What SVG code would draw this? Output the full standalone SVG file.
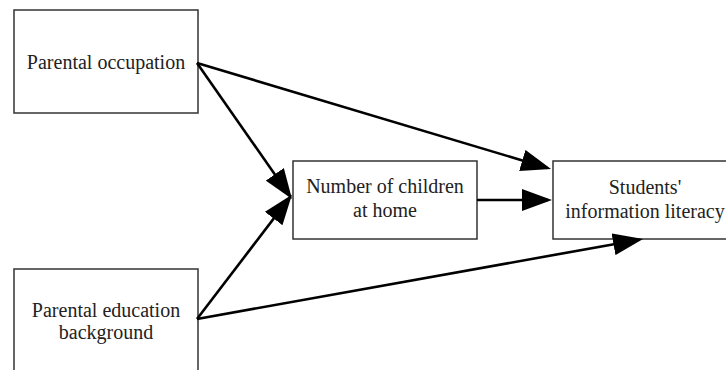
<svg xmlns="http://www.w3.org/2000/svg" width="726" height="370" viewBox="0 0 726 370">
  <style>
    .box { fill: #ffffff; stroke: #333333; stroke-width: 1.5; }
    .lbl { font-family: "Liberation Serif", "Times New Roman", serif; font-size: 20px; fill: #222222; text-anchor: middle; }
    .edge { stroke: #000000; stroke-width: 2.6; fill: none; marker-end: url(#arrow); }
  </style>
  <defs>
    <marker id="arrow" viewBox="0 0 30 22" refX="26" refY="11" markerWidth="30" markerHeight="22" markerUnits="userSpaceOnUse" orient="auto">
      <path d="M0,0 L30,11 L0,22 Z" fill="#000000"/>
    </marker>
  </defs>
  <rect width="726" height="370" fill="#ffffff"/>

  <g id="node-parental-occupation">
    <rect class="box" x="14" y="10" width="184" height="103"/>
    <text class="lbl" x="106" y="69">Parental occupation</text>
  </g>

  <g id="node-parental-education">
    <rect class="box" x="14" y="269" width="184" height="120"/>
    <text class="lbl" x="106" y="317">Parental education</text>
    <text class="lbl" x="106" y="339">background</text>
  </g>

  <g id="node-children">
    <rect class="box" x="293" y="161" width="184" height="78"/>
    <text class="lbl" x="385" y="193">Number of children</text>
    <text class="lbl" x="385" y="217">at home</text>
  </g>

  <g id="node-literacy">
    <rect class="box" x="553" y="161" width="184" height="78"/>
    <text class="lbl" x="645" y="194">Students'</text>
    <text class="lbl" x="645" y="218">information literacy</text>
  </g>

  <g id="connectors">
    <line class="edge" x1="197" y1="63" x2="547.2" y2="167.9"/>
    <line class="edge" x1="197" y1="63" x2="289.7" y2="195.7"/>
    <line class="edge" x1="477" y1="200" x2="548" y2="200"/>
    <line class="edge" x1="197" y1="319" x2="289.5" y2="197.9"/>
    <line class="edge" x1="197" y1="319" x2="639.1" y2="239.7"/>
  </g>
</svg>
